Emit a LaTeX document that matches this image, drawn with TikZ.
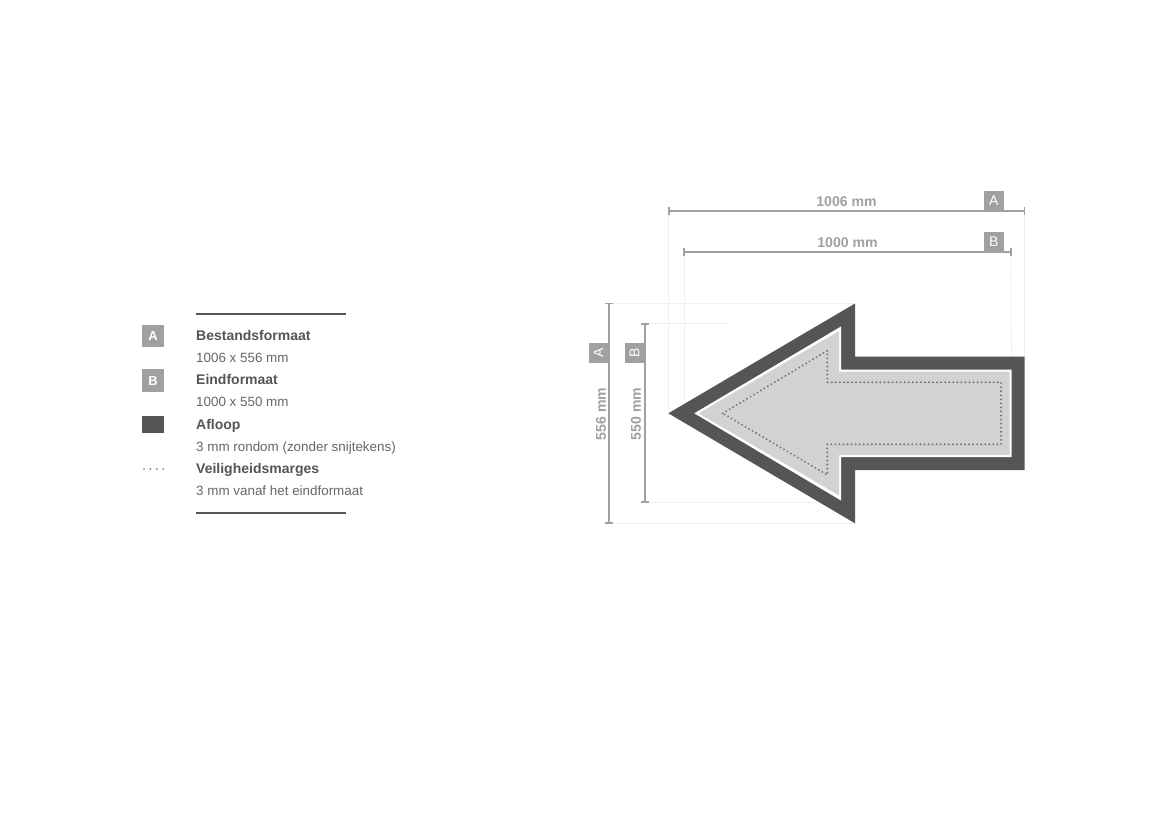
\documentclass[tikz,border=0pt]{standalone}
\usepackage{fontspec}
\usetikzlibrary{decorations.markings}
\setmainfont{Liberation Sans}
\definecolor{dark}{HTML}{555554}
\definecolor{dim}{HTML}{A0A0A0}
\definecolor{faint}{HTML}{F0F0F0}
\definecolor{fillgray}{HTML}{D2D2D2}
\definecolor{dotgray}{HTML}{707070}
\definecolor{txt}{HTML}{666666}
\tikzset{
  badge/.style={fill=dim,text=white,minimum width=20pt,minimum height=20pt,inner sep=0pt,font=\fontsize{14}{16}\selectfont},
  dimline/.style={draw=dim,line width=2pt},
  tick/.style={draw=dim,line width=1.7pt},
  extline/.style={draw=faint,line width=0.8pt},
  dimlabel/.style={text=dim,inner sep=0pt,font=\fontsize{14.1}{16}\selectfont\bfseries},
  legbold/.style={anchor=base west,inner sep=0pt,text=dark,font=\fontsize{14}{16}\selectfont\bfseries},
  legtext/.style={anchor=base west,inner sep=0pt,text=txt,font=\fontsize{13.4}{16}\selectfont},
  legrule/.style={draw=dark,line width=1.4pt},
  dotted path/.style={postaction={decorate,decoration={markings,
     mark=between positions 0 and 1 step 4.05pt with {\fill[dotgray] (0,0) circle[radius=#1];}}}},
}
\begin{document}
\begin{tikzpicture}[x=1pt,y=-1pt]
\useasboundingbox (0,0) rectangle (1169,827);
% extension lines
\coordinate (hAl) at (668.7,210.5); \coordinate (hAr) at (1024.5,210.5);
\coordinate (hBl) at (684,251.5);  \coordinate (hBr) at (1011,251.5);
\coordinate (vAt) at (609.3,303.6); \coordinate (vAb) at (609.3,523);
\coordinate (vBt) at (645,323.8); \coordinate (vBb) at (645,502);
\draw[extline] (hAl) -- (668.7,413);
\draw[extline] (hBl) -- (684,400);
\draw[extline] (hAr) -- (1024.5,357);
\draw[extline] (hBr) -- (1011.5,370);
\draw[extline] (vAt) -- (855,303.6);
\draw[extline] (vBt) -- (727,323.8);
\draw[extline] (vBb) -- (815,502);
\draw[extline] (vAb) -- (855,523);
% arrow
\fill[dark] (668.3,413.3) -- (855,303.5) -- (855,356.7) -- (1024.7,356.7) -- (1024.7,470) -- (855,470) -- (855,523.3) -- cycle;
\fill[white] (694.3,413.3) -- (841,326.5) -- (841,369.5) -- (1011.7,369.5) -- (1011.7,457) -- (841,457) -- (841,500.5) -- cycle;
\fill[fillgray] (698.5,413.3) -- (839,331) -- (839,371.5) -- (1009.7,371.5) -- (1009.7,455) -- (839,455) -- (839,495.5) -- cycle;
\path[dotted path=1.05pt] (722.7,413.3) -- (827.3,350.7) -- (827.3,382.3) -- (1001,382.3) -- (1001,444.3) -- (827.3,444.3) -- (827.3,475) -- cycle;
% dimension lines
\draw[dimline] (hAl) -- (hAr);
\draw[dimline] (hBl) -- (hBr);
\draw[dimline] (vAt) -- (vAb);
\draw[dimline] (vBt) -- (vBb);
\foreach \c in {hAl,hAr,hBl,hBr} {\draw[tick] ([yshift=-4pt]\c) -- ([yshift=4pt]\c);}
\foreach \c in {vAt,vAb,vBt,vBb} {\draw[tick] ([xshift=-4pt]\c) -- ([xshift=4pt]\c);}
% dimension labels
\node[dimlabel] (l1006) at (846.5,201.3) {1006 mm};
\node[dimlabel] (l1000) at (847.5,242.5) {1000 mm};
\node[dimlabel,rotate=90] (l556) at (601,414) {556 mm};
\node[dimlabel,rotate=90] (l550) at (636,414) {550 mm};
% badges
\node[badge] (bA) at (993.8,201) {A};
\node[badge] (bB) at (993.8,242) {B};
\node[badge,rotate=90] (sA) at (598.5,353) {A};
\node[badge,rotate=90] (sB) at (634.5,353) {B};
% legend
\draw[legrule] (196,314) -- (345.5,314);
\draw[legrule] (196,513) -- (345.5,513);
\node[badge,minimum width=22pt,minimum height=22.5pt] (lA) at (153,336.2) {\bfseries\fontsize{13}{15}\selectfont A};
\node[badge,minimum width=22pt,minimum height=22.5pt] (lB) at (153,380.6) {\bfseries\fontsize{13}{15}\selectfont B};
\node[fill=dark,minimum width=22pt,minimum height=16.3pt,inner sep=0pt] (lC) at (153,424.6) {};
\foreach \x in {144,150.4,156.8,163.2} {\fill[dotgray] (\x,469) circle[radius=0.95pt];}
\node[legbold] (t1) at (196,340.4) {Bestandsformaat};
\node[legtext] (t2) at (196,362.5) {1006 x 556 mm};
\node[legbold] (t3) at (196,384.8) {Eindformaat};
\node[legtext] (t4) at (196,406.9) {1000 x 550 mm};
\node[legbold] (t5) at (196,429.2) {Afloop};
\node[legtext] (t6) at (196,451.4) {3 mm rondom (zonder snijtekens)};
\node[legbold] (t7) at (196,473.7) {Veiligheidsmarges};
\node[legtext] (t8) at (196,495.8) {3 mm vanaf het eindformaat};
\end{tikzpicture}
\end{document}
